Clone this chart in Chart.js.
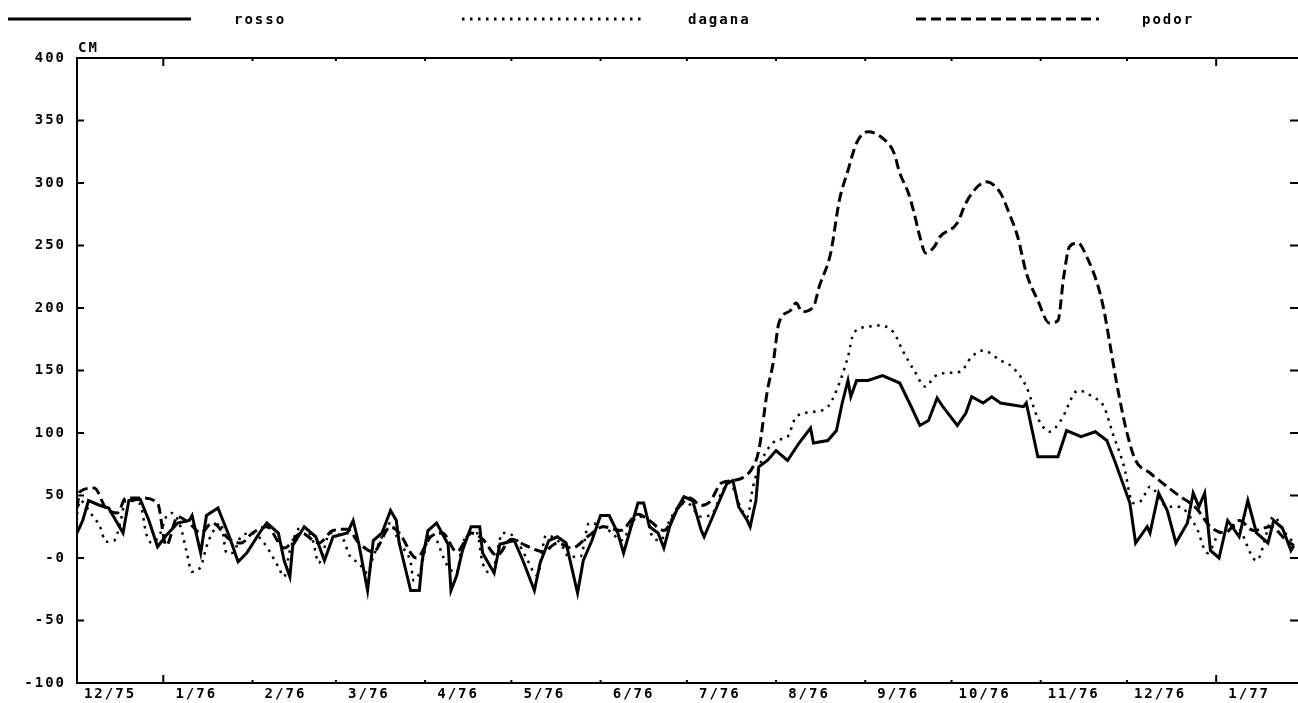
<!DOCTYPE html>
<html>
<head>
<meta charset="utf-8">
<script src="https://cdn.jsdelivr.net/npm/chart.js"></script>
<style>
  body { margin: 0; background: #fff; }
</style>
</head>
<body>
<canvas id="graphCanvas" width="1298" height="703"></canvas>
<script>
    // days counted from 2 Dec 1975, water level in cm
    const monthTickDays = [0, 30, 61, 90, 121, 151, 182, 212, 243, 274, 304, 335, 365, 396];
    const monthLabels = ['12/75', '1/76', '2/76', '3/76', '4/76', '5/76', '6/76', '7/76', '8/76', '9/76', '10/76', '11/76', '12/76', '1/77'];
    const levelTicks = [-100, -50, 0, 50, 100, 150, 200, 250, 300, 350, 400];

    const rossoDays = [0,2,4,8,11,14,16,18,22,25, 28,31,35,39,40,43,45,49,53,56,
        59,64,66,70,72,74,75,79,83,86, 89,94,96,98,101,103,106,109,111,112,
        116,119,120,122,125,129,130,132,134,137, 140,141,145,147,152,155,159,161,164,167,
        170,174,176,179,182,185,188,190,192,195, 197,199,202,204,206,209,211,214,217,218,
        223,226,228,230,233,234,236,237,240,243, 247,251,255,256,261,264,266,268,269,271,
        275,280,286,290,293,296,299,301,306,309, 311,315,318,321,329,330,334,341,344,349,
        354,358,361,366,368,372,373,376,379,382, 386,388,390,392,394,397,400,404,407,410,
        414,416,419,422,423];
    const rossoCm = [20,30,46,42,40,28,20,46,47,30, 9,18,28,30,34,4,34,40,17,-3,
        4,22,28,20,-2,-15,10,25,17,-2, 17,20,30,11,-26,14,20,38,30,12,
        -26,-26,-2,22,28,11,-26,-14,6,25, 25,4,-12,11,14,-2,-26,-4,14,17,
        12,-28,-2,14,34,34,20,4,20,44, 44,25,20,8,25,41,49,46,22,17,
        44,60,62,41,30,25,46,73,78,86, 78,92,104,92,94,102,124,142,129,142,
        142,146,140,121,106,110,128,121,106,116, 129,124,129,124,121,124,81,81,102,97,
        101,94,76,44,12,25,20,52,38,12, 28,52,41,52,6,0,30,17,46,20,
        12,30,24,6,10];

    const daganaDays = [0,1,5,8,10,13,15,17,22,24, 26,29,31,33,36,38,40,43,45,47,
        50,52,54,57,61,65,70,72,74,78, 82,84,88,92,95,98,101,103,106,109,
        112,116,117,119,123,129,132,134,139,141, 144,148,152,156,160,163,168,171,175,178,
        183,186,189,195,198,200,203,205,209,212, 217,221,224,227,230,233,235,238,243,247,
        250,256,261,264,268,270,275,279,284,287, 291,295,298,302,307,311,315,321,325,330,
        334,338,342,348,353,357,360,364,367,370, 373,379,383,389,393,397,403,410,416,420,
        423];
    const daganaCm = [35,46,35,25,13,14,28,46,43,20, 12,20,33,36,25,6,-11,-7,9,20,
        28,4,4,17,20,12,-7,-15,6,25, 14,-4,20,17,1,-4,-12,1,17,28,
        12,-4,-18,-12,20,-7,-12,12,20,-4, -12,20,17,1,-14,18,12,1,1,28,
        25,20,14,33,33,17,14,25,41,44, 33,36,52,60,44,33,57,78,94,97,
        113,117,121,134,161,180,185,186,180,166, 150,137,145,148,149,161,166,158,153,137,
        112,101,110,134,129,121,100,73,44,46, 57,41,41,25,4,20,25,-2,33,20,
        12];

    const podorDays = [0,1,6,10,14,17,22,28,31,35, 39,43,47,53,57,61,66,72,78,84,
        89,94,98,103,109,112,118,123,127,132, 137,141,146,151,156,162,167,172,178,183,
        189,195,199,204,209,213,217,220,224,228, 232,235,237,240,242,244,248,250,252,256,
        258,262,265,268,271,275,280,284,286,289, 291,293,295,298,300,306,309,313,316,321,
        324,327,330,334,338,341,343,345,348,351, 355,357,359,361,363,365,368,373,379,383,
        389,394,399,404,409,415,420,423];
    const podorCm = [40,53,56,40,36,48,48,44,10,33, 28,20,28,15,12,20,25,8,20,12,
        22,23,12,5,25,20,0,17,20,5, 20,15,2,15,10,5,12,8,18,25,
        22,35,30,22,40,48,42,45,60,62, 65,73,86,134,156,188,198,204,197,201,
        217,244,286,310,332,341,336,324,308,292, 276,257,244,249,257,268,284,297,301,292,
        276,257,228,206,188,190,225,249,252,241, 217,198,172,145,121,100,78,68,57,50,
        40,25,20,30,22,25,15,10];

    const pairs = (days, cm) => days.map((d, i) => ({ x: d, y: cm[i] }));

    const FONT = { family: '"DejaVu Sans Mono", monospace', size: 14, weight: 'bold' };
    const fontStr = 'bold 14px "DejaVu Sans Mono", monospace';

    // plotter look: wide letter spacing (context state is reset on resize, so set it each pass)
    const spacing = {
        id: 'spacing',
        beforeUpdate(chart) { chart.ctx.letterSpacing = '2px'; },
        beforeDraw(chart) { chart.ctx.letterSpacing = '2px'; }
    };

    // inward tick marks, "CM" unit and the line-sample legend on top
    const decorations = {
        id: 'decorations',
        afterDraw(chart) {
            const c = chart.ctx;
            const area = chart.chartArea;
            const xs = chart.scales.x;
            const ys = chart.scales.y;
            c.save();
            c.strokeStyle = '#000';
            c.lineWidth = 2;
            c.setLineDash([]);
            c.beginPath();
            monthTickDays.forEach((d, i) => {
                const px = xs.getPixelForValue(d);
                const len = monthLabels[i].startsWith('1/') ? 8 : 3;
                c.moveTo(px, area.bottom); c.lineTo(px, area.bottom - len);
                c.moveTo(px, area.top); c.lineTo(px, area.top + len);
            });
            levelTicks.forEach(v => {
                const py = ys.getPixelForValue(v);
                c.moveTo(area.left, py); c.lineTo(area.left + 7, py);
                c.moveTo(area.right - 5, py); c.lineTo(area.right + 3, py);
            });
            c.stroke();

            c.fillStyle = '#000';
            c.font = fontStr;
            c.letterSpacing = '2px';
            c.textBaseline = 'alphabetic';
            c.textAlign = 'left';
            c.fillText('CM', area.left + 1, area.top - 6);

            chart.data.datasets.forEach((ds, i) => {
                const x0 = 8 + i * 454;
                c.beginPath();
                c.lineWidth = 3;
                c.setLineDash(ds.borderDash || []);
                c.moveTo(x0, 19);
                c.lineTo(x0 + 183, 19);
                c.stroke();
                c.setLineDash([]);
                c.fillText(ds.label, x0 + 226, 24);
            });
            c.restore();
        }
    };

    const ctx = document.getElementById('graphCanvas');

    new Chart(ctx, {
        type: 'line',
        data: {
            datasets: [{
                label: 'rosso',
                data: pairs(rossoDays, rossoCm),
                borderColor: '#000',
                borderWidth: 3,
                pointRadius: 0
            }, {
                label: 'dagana',
                data: pairs(daganaDays, daganaCm),
                borderColor: '#000',
                borderWidth: 2.5,
                borderDash: [2.5, 5.5],
                cubicInterpolationMode: 'monotone',
                pointRadius: 0
            }, {
                label: 'podor',
                data: pairs(podorDays, podorCm),
                borderColor: '#000',
                borderWidth: 3,
                borderDash: [10, 5],
                cubicInterpolationMode: 'monotone',
                pointRadius: 0
            }]
        },
        options: {
            responsive: false,
            animation: false,
            layout: { padding: 0 },
            plugins: {
                legend: { display: false },
                tooltip: { enabled: false }
            },
            scales: {
                x: {
                    type: 'linear',
                    position: 'bottom',
                    min: 0,
                    max: 423.4,
                    afterBuildTicks: scale => { scale.ticks = monthTickDays.map(v => ({ value: v })); },
                    afterFit: scale => { scale.height = 20; },
                    grid: { display: false, drawTicks: false },
                    border: { display: true, color: '#000', width: 2 },
                    ticks: {
                        autoSkip: false,
                        maxRotation: 0,
                        labelOffset: 33,
                        padding: 3,
                        color: '#000',
                        font: FONT,
                        callback: (value, index) => monthLabels[index]
                    }
                },
                x2: {
                    type: 'linear',
                    position: 'top',
                    min: 0,
                    max: 423.4,
                    afterFit: scale => { scale.height = 58; },
                    grid: { display: false, drawTicks: false },
                    border: { display: true, color: '#000', width: 2 },
                    ticks: { display: false }
                },
                y: {
                    position: 'left',
                    min: -100,
                    max: 400,
                    afterBuildTicks: scale => { scale.ticks = levelTicks.map(v => ({ value: v })); },
                    afterFit: scale => { scale.width = 77; },
                    grid: { display: false, drawTicks: false },
                    border: { display: true, color: '#000', width: 2 },
                    ticks: {
                        padding: 11,
                        color: '#000',
                        font: FONT,
                        callback: value => value === 0 ? '-0' : String(value)
                    }
                },
                y2: {
                    position: 'right',
                    min: -100,
                    max: 400,
                    afterFit: scale => { scale.width = 3; },
                    grid: { display: false, drawTicks: false },
                    border: { display: false },
                    ticks: { display: false }
                }
            }
        },
        plugins: [spacing, decorations]
    });
</script>
</body>
</html>
